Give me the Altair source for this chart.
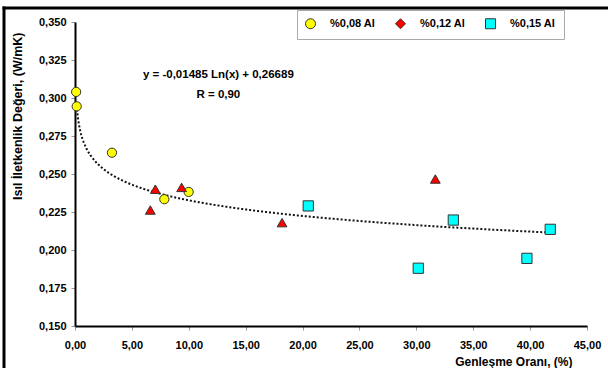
import altair as alt
import pandas as pd

# ---- data ----
series_names = ["%0,08 Al", "%0,12 Al", "%0,15 Al"]
series_colors = ["#FFFF00", "#FF0000", "#00FFFF"]
plot_shapes = ["circle", "triangle-up", "square"]
legend_shapes = ["circle", "diamond", "square"]
plot_sizes = [85, 105, 95]

yellow_x = [0.10, 0.15, 3.25, 7.85, 9.99]
yellow_y = [0.304, 0.2945, 0.264, 0.2334, 0.2382]
red_x = [7.06, 6.62, 9.37, 18.2, 31.67]
red_y = [0.240, 0.2263, 0.2412, 0.218, 0.2467]
cyan_x = [20.5, 33.25, 30.17, 39.72, 41.77]
cyan_y = [0.229, 0.2197, 0.188, 0.1945, 0.2136]

# trend line: y = a*ln(x) + b
trend_a = -0.01485
trend_b = 0.26689
trend_start = 0.15
trend_stop = 41.8

eq_text = ["y = -0,01485 Ln(x) + 0,26689", "R = 0,90"]
eq_x = [12.6, 12.6]
eq_y = [0.3151, 0.3020]

x_ticks = [0, 5, 10, 15, 20, 25, 30, 35, 40, 45]
y_ticks = [0.150, 0.175, 0.200, 0.225, 0.250, 0.275, 0.300, 0.325, 0.350]

FONT = "Liberation Sans"

rows = []
for name, xs, ys in zip(series_names, [yellow_x, red_x, cyan_x], [yellow_y, red_y, cyan_y]):
    for xv, yv in zip(xs, ys):
        rows.append({"x": xv, "y": yv, "series": name})
df = pd.DataFrame(rows)
eq_df = pd.DataFrame({"x": eq_x, "y": eq_y, "t": eq_text})

xscale = alt.Scale(domain=[0, 45], nice=False, zero=False)
yscale = alt.Scale(domain=[0.15, 0.35], nice=False, zero=False)

x_axis = alt.Axis(
    values=x_ticks,
    labelExpr="replace(format(datum.value, '.2f'), '.', ',')",
    labelFlush=False, labelOverlap=False,
    title="Genleşme Oranı, (%)",
    titleX=497, titleY=30, titleAlign="right", titleBaseline="top",
    grid=False,
)
y_axis = alt.Axis(
    values=y_ticks, tickCount=9,
    labelExpr="replace(format(datum.value, '.3f'), '.', ',')",
    labelFlush=False, labelOverlap=False,
    title="Isıl İletkenlik Değeri, (W/mK)",
    titleX=-58, titleY=10, titleAlign="right", titleBaseline="middle",
    titleAngle=270, titleFontSize=12.5,
    grid=False,
)


def X():
    return alt.X("x:Q", scale=xscale, axis=x_axis)


def Y():
    return alt.Y("y:Q", scale=yscale, axis=y_axis)


# outer frame (left and top edges only, as in the reference)
frame_src = pd.DataFrame({"d": [0]})
frame_left = alt.Chart(frame_src).mark_rect(color="black", clip=False).encode(
    x=alt.value(-72.5), x2=alt.value(-69.5), y=alt.value(-15.5), y2=alt.value(346)
)
frame_top = alt.Chart(frame_src).mark_rect(color="black", clip=False).encode(
    x=alt.value(-72.5), x2=alt.value(533), y=alt.value(-15.5), y2=alt.value(-12.5)
)

trend = (
    alt.Chart(alt.sequence(trend_start, trend_stop + 0.01, 0.05, as_="x"))
    .transform_calculate(y=f"{trend_a} * log(datum.x) + {trend_b}")
    .mark_line(color="#111111", strokeWidth=2, strokeDash=[2, 2])
    .encode(x=X(), y=Y())
)

points = alt.Chart(df).mark_point(
    filled=True, stroke="#333333", strokeWidth=1, opacity=1
).encode(
    x=X(), y=Y(),
    color=alt.Color("series:N", scale=alt.Scale(domain=series_names, range=series_colors), legend=None),
    shape=alt.Shape("series:N", scale=alt.Scale(domain=series_names, range=plot_shapes), legend=None),
    size=alt.Size("series:N", scale=alt.Scale(domain=series_names, range=plot_sizes), legend=None),
)

legend_layer = alt.Chart(df).transform_filter("false").mark_point(
    filled=True, size=70, stroke="#333333", strokeWidth=1, opacity=1
).encode(
    color=alt.Color("series:N", scale=alt.Scale(domain=series_names, range=series_colors), title=None),
    shape=alt.Shape("series:N", scale=alt.Scale(domain=series_names, range=legend_shapes), title=None),
)

eq = alt.Chart(eq_df).mark_text(
    font=FONT, fontWeight="bold", fontSize=11.5, color="black", align="center", baseline="middle"
).encode(x=X(), y=Y(), text="t:N")

chart = (
    alt.layer(frame_left, frame_top, trend, points, eq, legend_layer)
    .resolve_scale(color="independent", shape="independent")
    .properties(
        width=512, height=304,
        autosize=alt.AutoSizeParams(type="none"),
        padding={"left": 75, "top": 22, "right": 21, "bottom": 42},
        background="white",
    )
    .configure_view(stroke=None)
    .configure_axis(
        labelFont=FONT, labelFontWeight="bold", labelFontSize=11, labelColor="black",
        titleFont=FONT, titleFontWeight="bold", titleFontSize=12, titleColor="black",
        domainColor="black", domainWidth=2,
        tickColor="#999999", tickSize=4, tickWidth=1,
    )
    .configure_axisX(labelPadding=9)
    .configure_axisY(labelPadding=5)
    .configure_legend(
        orient="none", legendX=222, legendY=-12, direction="horizontal", columns=3,
        labelFont=FONT, labelFontWeight="bold", labelFontSize=11, labelColor="black",
        strokeColor="#aaaaaa", fillColor="white", padding=8,
        labelOffset=14, columnPadding=17, symbolStrokeWidth=1,
    )
)

chart.save("out.html", embed_options={"renderer": "svg", "actions": False})
